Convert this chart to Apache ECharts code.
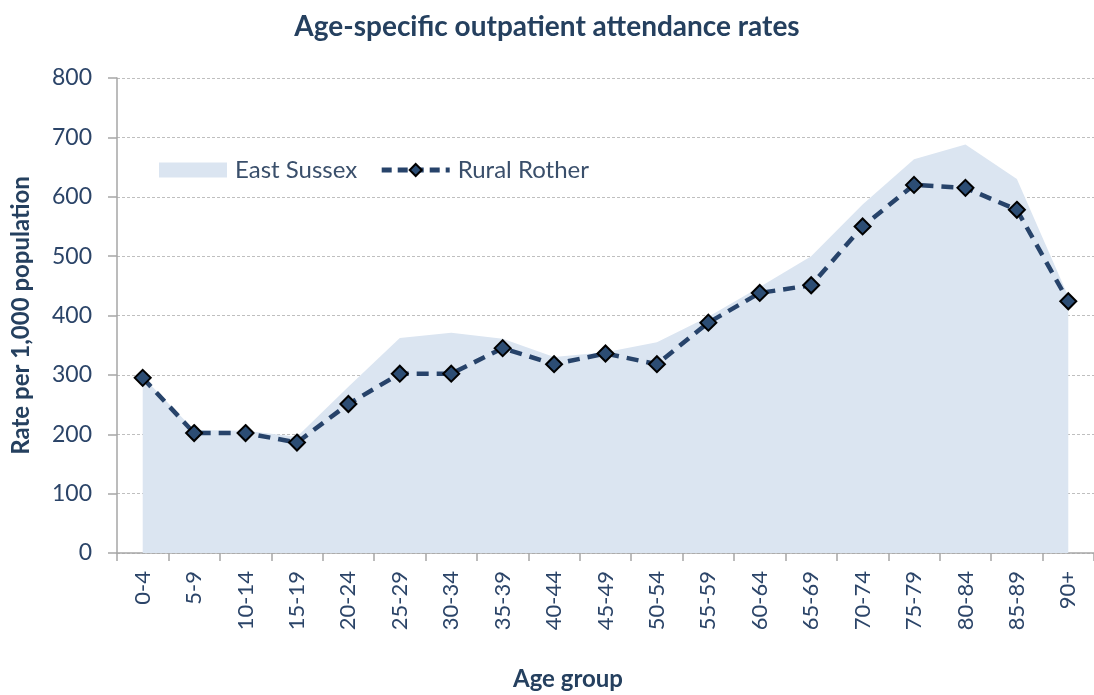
<!DOCTYPE html>
<html>
<head>
<meta charset="utf-8">
<script src="https://cdn.jsdelivr.net/npm/echarts@6/dist/echarts.min.js"></script>
<style>html,body{margin:0;padding:0;background:#fff;}#c{width:1094px;height:695px;}</style>
</head>
<body>
<div id="c"></div>
<script>
const categories = ['0-4','5-9','10-14','15-19','20-24','25-29','30-34','35-39','40-44','45-49','50-54','55-59','60-64','65-69','70-74','75-79','80-84','85-89','90+'];
const eastSussex = [297, 207, 206, 196, 280, 362, 371, 361, 330, 338, 355, 398, 448, 500, 587, 663, 688, 630, 432];
const ruralRother = [295, 202, 202, 186, 251, 302, 302, 345, 318, 336, 318, 388, 438, 451, 550, 620, 615, 578, 424];
const yTicks = [0, 100, 200, 300, 400, 500, 600, 700, 800];

const FONT = 'Lato';
const TXT = '#2b4468';
const chart = echarts.init(document.getElementById('c'), null, {renderer: 'canvas'});
chart.setOption({
  animation: false,
  backgroundColor: '#fff',
  title: {
    text: 'Age-specific outpatient attendance rates',
    left: 'center',
    top: 8,
    textStyle: {fontFamily: FONT, fontSize: 28, fontWeight: 'bold', color: '#25405f'}
  },
  graphic: [{
    type: 'text',
    left: 513,
    top: 667,
    style: {text: 'Age group', font: 'bold 24px Lato', fill: '#25405f'}
  }],
  legend: {
    left: 154,
    top: 153,
    itemWidth: 68,
    itemHeight: 15,
    itemGap: 22,
    textStyle: {fontFamily: FONT, fontSize: 24, color: '#3a4f6b', padding: [0, 0, 0, 3]},
    data: [
      {name: 'East Sussex', icon: 'rect', itemStyle: {color: '#dbe5f1', borderWidth: 0}},
      {name: 'Rural Rother', lineStyle: {width: 5, type: [10, 6]}}
    ]
  },
  grid: {left: 117, right: -7, top: 78, bottom: 142},
  xAxis: {
    type: 'category',
    data: categories,
    boundaryGap: true,
    axisLine: {lineStyle: {color: '#a6a6a6', width: 1.5}},
    axisTick: {show: true, length: 8, lineStyle: {color: '#a6a6a6', width: 1.5}},
    axisLabel: {rotate: 90, fontFamily: FONT, fontSize: 22, color: TXT, margin: 18, interval: 0}
  },
  yAxis: {
    type: 'value',
    min: 0,
    max: 800,
    interval: 100,
    name: 'Rate per 1,000 population',
    nameLocation: 'middle',
    nameGap: 84,
    nameTextStyle: {fontFamily: FONT, fontSize: 24, fontWeight: 'bold', color: '#25405f'},
    axisLine: {show: true, lineStyle: {color: '#a6a6a6', width: 1.5}},
    axisTick: {show: true, length: 9, lineStyle: {color: '#a6a6a6', width: 1.5}},
    axisLabel: {fontFamily: FONT, fontSize: 23, color: TXT, margin: 25,
      formatter: v => yTicks.includes(v) ? String(v) : ''},
    splitLine: {lineStyle: {color: '#bfbfbf', type: [3, 2], width: 1}}
  },
  series: [
    {
      name: 'East Sussex',
      type: 'line',
      data: eastSussex,
      symbol: 'none',
      lineStyle: {width: 0, color: '#dbe5f1'},
      itemStyle: {color: '#dbe5f1'},
      areaStyle: {color: '#dbe5f1', opacity: 1},
      z: 1
    },
    {
      name: 'Rural Rother',
      type: 'line',
      data: ruralRother,
      symbol: 'diamond',
      symbolSize: 16,
      lineStyle: {width: 4.5, color: '#27436a', type: [12, 8]},
      itemStyle: {color: '#2c4d74', borderColor: '#000', borderWidth: 2},
      z: 3
    }
  ]
});
</script>
</body>
</html>
